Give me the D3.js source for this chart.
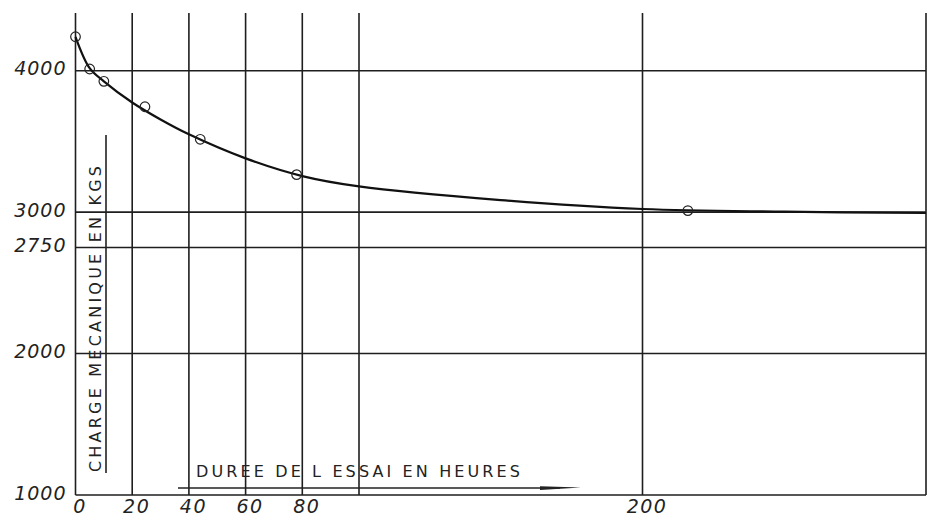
<!doctype html>
<html>
  <head>
    <meta charset="utf-8">
    <title>Charge mecanique</title>
    <script src="https://cdnjs.cloudflare.com/ajax/libs/d3/7.8.5/d3.min.js"></script>
    <style>
      body { margin: 0; background: #fff; }
      svg text { font-family: "DejaVu Sans", sans-serif; fill: #222; }
      .tick-label { font-style: italic; font-size: 19px; }
      .hand { font-size: 16px; }
    </style>
  </head>
  <body>
    <div id="chart"></div>
    <script>
      // measured points (hours, kg)
      const hours = [0, 5, 10, 24.5, 44, 78, 216];
      const load  = [4240, 4012, 3925, 3745, 3515, 3265, 3011];

      // the smooth curve drawn by hand through the points
      const curveHours = [0, 5, 10, 20, 30, 40, 60, 80, 100, 150, 200, 250, 300];
      const curveLoad  = [4240, 4018, 3925, 3775, 3655, 3550, 3380, 3255, 3182, 3085, 3022, 3003, 2994];

      // grid and tick labels
      const xGrid   = [0, 20, 40, 60, 80, 100, 200, 300];
      const xLabels = [0, 20, 40, 60, 80, 200];
      const yGrid   = [1000, 2000, 2750, 3000, 4000];

      const width = 928, height = 516;

      const x = d3.scaleLinear().domain([0, 300]).range([75.5, 926]);
      const y = d3.scaleLinear().domain([1000, 4000]).range([495, 70.7]);
      const yTop = 4408;

      const svg = d3.select('#chart')
        .append('svg')
        .attr('width', width)
        .attr('height', height);

      // vertical lines
      svg.append('g')
        .selectAll('line')
        .data(xGrid)
        .join('line')
          .attr('x1', d => x(d))
          .attr('x2', d => x(d))
          .attr('y1', y(yTop))
          .attr('y2', y(1000))
          .attr('stroke', '#1e1e1e')
          .attr('stroke-width', 1.6);

      // horizontal lines
      svg.append('g')
        .selectAll('line')
        .data(yGrid)
        .join('line')
          .attr('x1', x(0))
          .attr('x2', x(300))
          .attr('y1', d => y(d))
          .attr('y2', d => y(d))
          .attr('stroke', '#1e1e1e')
          .attr('stroke-width', 1.6);

      // y tick labels
      const yAxis = d3.axisLeft(y).tickValues(yGrid).tickFormat(d3.format('d'))
        .tickSize(0).tickPadding(9);
      const gy = svg.append('g')
        .attr('transform', `translate(${x(0)},0)`)
        .call(yAxis);
      gy.select('.domain').remove();
      gy.selectAll('text')
        .attr('class', 'tick-label')
        .attr('dy', '0.22em')
        .style('letter-spacing', '1px');

      // x tick labels
      const xAxis = d3.axisBottom(x).tickValues(xLabels).tickFormat(d3.format('d'))
        .tickSize(0).tickPadding(8);
      const gx = svg.append('g')
        .attr('transform', `translate(4,${y(1000)})`)
        .call(xAxis);
      gx.select('.domain').remove();
      gx.selectAll('text')
        .attr('class', 'tick-label')
        .attr('dy', '0.5em')
        .style('letter-spacing', '1.5px');

      // curve
      const line = d3.line()
        .x((d, i) => x(curveHours[i]))
        .y(d => y(d))
        .curve(d3.curveCatmullRom.alpha(0.5));

      svg.append('path')
        .datum(curveLoad)
        .attr('d', line)
        .attr('fill', 'none')
        .attr('stroke', '#111')
        .attr('stroke-width', 2.2);

      // circles
      svg.append('g')
        .selectAll('circle')
        .data(load)
        .join('circle')
          .attr('cx', (d, i) => x(hours[i]))
          .attr('cy', d => y(d))
          .attr('r', 4.8)
          .attr('fill', 'none')
          .attr('stroke', '#222')
          .attr('stroke-width', 1.2);

      // y label with its bracket line
      svg.append('line')
        .attr('x1', 106).attr('x2', 106)
        .attr('y1', 135).attr('y2', 473)
        .attr('stroke', '#222')
        .attr('stroke-width', 1.6);

      svg.append('text')
        .attr('class', 'hand')
        .attr('transform', 'translate(101,472) rotate(-90)')
        .attr('textLength', 306)
        .attr('lengthAdjust', 'spacing')
        .text('CHARGE MECANIQUE EN KGS');

      // x label with arrow
      svg.append('text')
        .attr('class', 'hand')
        .attr('x', 196)
        .attr('y', 477)
        .attr('textLength', 324)
        .attr('lengthAdjust', 'spacing')
        .text('DUREE DE L ESSAI EN HEURES');

      svg.append('line')
        .attr('x1', 178).attr('x2', 560)
        .attr('y1', 488).attr('y2', 488)
        .attr('stroke', '#222')
        .attr('stroke-width', 1.4);

      svg.append('path')
        .attr('d', 'M540,486.2 L581,487.6 L540,490 Z')
        .attr('fill', '#222');
    </script>
  </body>
</html>
